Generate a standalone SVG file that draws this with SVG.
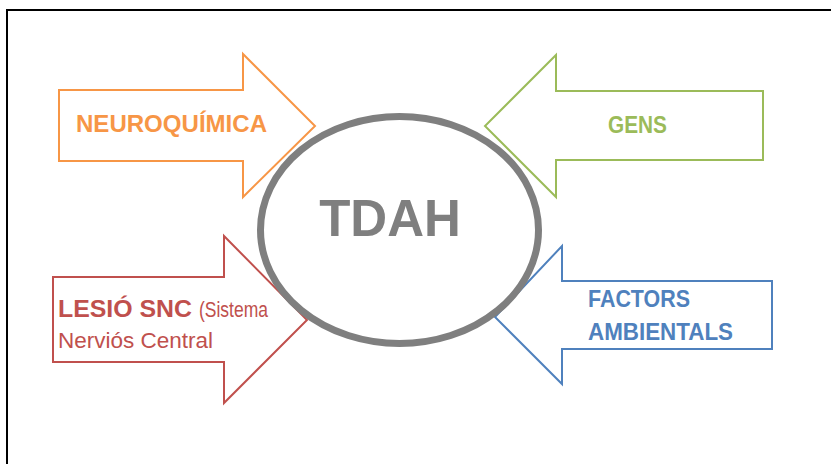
<svg xmlns="http://www.w3.org/2000/svg" width="831" height="464" viewBox="0 0 831 464">
<style>
.arrow{fill:#fff;stroke-width:2;stroke-linejoin:miter}
.lbl{font-family:"Liberation Sans",Arial,sans-serif;font-weight:bold;font-size:24px}
.reg{font-weight:normal;font-size:22px}
</style>
<rect width="831" height="464" fill="#fff"/>
<path d="M7,464 V10 H831" fill="none" stroke="#000" stroke-width="2"/>
<g id="connectors">
<g id="arrow-neuroquimica">
<polygon class="arrow" stroke="#f79646" points="59,90 243,90 243,54 315,126 243,197 243,161 59,161"/>
<text class="lbl" fill="#f79646" x="76" y="132" textLength="191" lengthAdjust="spacingAndGlyphs">NEUROQUÍMICA</text>
</g>
<g id="arrow-gens">
<polygon class="arrow" stroke="#9bbb59" points="763,91 556,91 556,55 485,126 556,197 556,160 763,160"/>
<text class="lbl" fill="#9bbb59" x="608" y="133" textLength="59" lengthAdjust="spacingAndGlyphs">GENS</text>
</g>
<g id="arrow-lesio">
<polygon class="arrow" stroke="#c0504d" points="53,277 224,277 224,236 307,320 224,403 224,362 53,362"/>
<text class="lbl" fill="#c0504d" x="58" y="317" textLength="134" lengthAdjust="spacingAndGlyphs">LESIÓ SNC</text>
<text class="lbl reg" fill="#c0504d" x="199" y="317" textLength="69" lengthAdjust="spacingAndGlyphs">(Sistema</text>
<text class="lbl reg" fill="#c0504d" x="58" y="348" textLength="155" lengthAdjust="spacingAndGlyphs">Nerviós Central</text>
</g>
<g id="arrow-factors">
<polygon class="arrow" stroke="#4f81bd" points="772,281 562,281 562,246 495,317 562,384 562,349 772,349"/>
<text class="lbl" fill="#4f81bd" x="588" y="307" textLength="102" lengthAdjust="spacingAndGlyphs">FACTORS</text>
<text class="lbl" fill="#4f81bd" x="588" y="340" textLength="145" lengthAdjust="spacingAndGlyphs">AMBIENTALS</text>
</g>
</g>
<g id="tdah">
<ellipse cx="399.5" cy="230" rx="139" ry="113.5" fill="#fff" stroke="#7f7f7f" stroke-width="7"/>
<text x="390" y="236" text-anchor="middle" font-family="Liberation Sans,Arial,sans-serif" font-weight="bold" font-size="51" fill="#7f7f7f">TDAH</text>
</g>
</svg>
